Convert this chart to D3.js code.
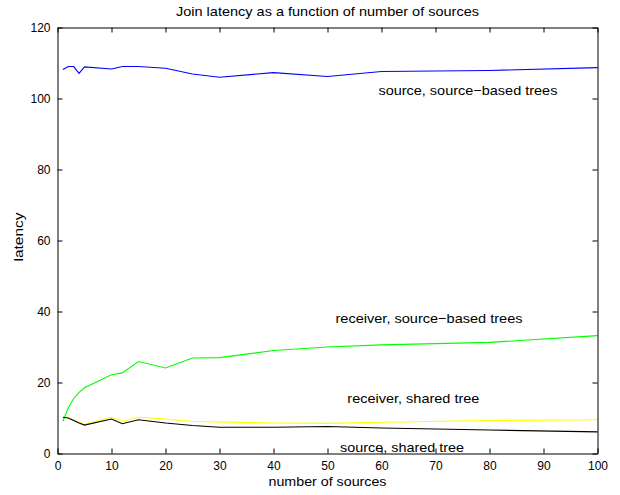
<html>
<head>
  <title>Join latency</title>
  <script src='https://d3js.org/d3.v7.min.js'></script>
  <style>
    body { margin: 0; background: #fff; }
    text { font-family: 'Liberation Sans', Arial, sans-serif; }
  </style>
</head>
<body>
  <script>
var width = 620,
    height = 495;

// number of sources
var sources = [1, 2, 3, 4, 5, 10, 12, 15, 20, 25, 30, 40, 50, 60, 80, 100];

var srcSourceTrees  = [108.2, 109.0, 109.0, 107.1, 108.9, 108.3, 109.0, 109.0, 108.5, 106.9, 106.0, 107.3, 106.2, 107.6, 107.9, 108.7];
var rcvSourceTrees  = [9.1, 12.9, 15.5, 17.2, 18.5, 22.2, 22.7, 25.9, 24.1, 26.9, 27.0, 29.0, 30.0, 30.6, 31.3, 33.2];
var rcvSharedTree   = [10.2, 10.0, 9.4, 8.8, 8.2, 10.2, 9.1, 10.2, 9.7, 9.0, 8.9, 8.6, 8.5, 8.8, 9.3, 9.5];
var srcSharedTree   = [10.2, 10.0, 9.3, 8.6, 8.0, 9.7, 8.4, 9.5, 8.6, 7.9, 7.4, 7.4, 7.6, 7.2, 6.6, 6.1];

var xTicks = [0, 10, 20, 30, 40, 50, 60, 70, 80, 90, 100];
var yTicks = [0, 20, 40, 60, 80, 100, 120];

var series = [
  {values: srcSourceTrees, color: '#0000ff'},
  {values: rcvSourceTrees, color: '#00ff00'},
  {values: rcvSharedTree, color: '#ffff00'},
  {values: srcSharedTree, color: '#000000'}
];

// text labels, anchored in data coordinates
var annotations = [
  {text: 'source, source\u2212based trees', x: 76, y: 100.9},
  {text: 'receiver, source\u2212based trees', x: 68.8, y: 36.8},
  {text: 'receiver, shared tree', x: 65.9, y: 14.3},
  {text: 'source, shared tree', x: 63.8, y: 0.4}
];
// the reference font runs wider than Liberation Sans; widths in px
var annotationWidths = [179, 187, 132, 124];

var margin = {left: 57.5, right: 22.5, top: 27.5, bottom: 41.5};

var svg = d3.select('body')
  .append('svg')
  .attr('width', width)
  .attr('height', height);

var x = d3.scaleLinear().domain([0, 100]).range([margin.left, width - margin.right]);
var y = d3.scaleLinear().domain([0, 120]).range([height - margin.bottom, margin.top]);

var line = d3.line()
  .x(function(d, i) { return x(sources[i]); })
  .y(function(d) { return y(d); });

svg.append('g').selectAll('path')
  .data(series)
  .enter()
  .append('path')
  .attr('fill', 'none')
  .attr('stroke', d => d.color)
  .attr('stroke-width', 1.1)
  .attr('d', d => line(d.values));

// box axes with inward ticks
var axBottom = svg.append('g')
  .attr('transform', 'translate(0,' + y(0) + ')')
  .call(d3.axisBottom(x).tickValues(xTicks).tickSizeInner(-5).tickSizeOuter(0).tickPadding(8));
var axTop = svg.append('g')
  .attr('transform', 'translate(0,' + y(120) + ')')
  .call(d3.axisTop(x).tickValues(xTicks).tickSizeInner(-5).tickSizeOuter(0).tickFormat(''));
var axLeft = svg.append('g')
  .attr('transform', 'translate(' + x(0) + ',0)')
  .call(d3.axisLeft(y).tickValues(yTicks).tickSizeInner(-5).tickSizeOuter(0).tickPadding(7));
var axRight = svg.append('g')
  .attr('transform', 'translate(' + x(100) + ',0)')
  .call(d3.axisRight(y).tickValues(yTicks).tickSizeInner(-5).tickSizeOuter(0).tickFormat(''));

[axBottom, axTop, axLeft, axRight].forEach(function(g) {
  g.selectAll('text').style('font-size', '12px').attr('fill', '#000');
  g.selectAll('line').attr('stroke', '#000');
  g.select('.domain').attr('stroke', '#000');
});

svg.append('g').selectAll('text')
  .data(annotations)
  .enter()
  .append('text')
  .attr('x', d => x(d.x))
  .attr('y', d => y(d.y))
  .attr('text-anchor', 'middle')
  .attr('textLength', (d, i) => annotationWidths[i])
  .attr('lengthAdjust', 'spacingAndGlyphs')
  .style('font-size', '13px')
  .text(d => d.text);

svg.append('text')
  .attr('x', (x(0) + x(100)) / 2)
  .attr('y', 16)
  .attr('text-anchor', 'middle')
  .attr('textLength', 303)
  .attr('lengthAdjust', 'spacingAndGlyphs')
  .style('font-size', '13px')
  .text('Join latency as a function of number of sources');

svg.append('text')
  .attr('x', (x(0) + x(100)) / 2)
  .attr('y', 486)
  .attr('text-anchor', 'middle')
  .attr('textLength', 118)
  .attr('lengthAdjust', 'spacingAndGlyphs')
  .style('font-size', '13px')
  .text('number of sources');

svg.append('text')
  .attr('transform', 'translate(23,237) rotate(-90)')
  .attr('text-anchor', 'middle')
  .attr('textLength', 49)
  .attr('lengthAdjust', 'spacingAndGlyphs')
  .style('font-size', '13px')
  .text('latency');
  </script>
</body>
</html>
